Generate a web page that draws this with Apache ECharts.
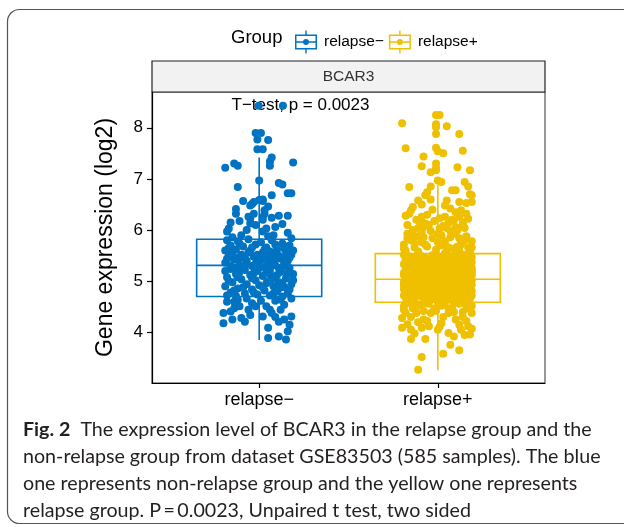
<!DOCTYPE html>
<html>
<head>
<meta charset="utf-8">
<script src="https://cdn.jsdelivr.net/npm/echarts@6/dist/echarts.min.js"></script>
<style>
html,body{margin:0;padding:0;background:#fff;}
#chart{width:624px;height:527px;}
</style>
</head>
<body>
<div id="chart"></div>
<script>
// ---------- data ----------
const categories = ['relapse\u2212', 'relapse+'];
const groupColors = ['#0073C2', '#EFC000'];
const yTickValues = [4, 5, 6, 7, 8];
const panelTitle = 'BCAR3';
const testLabel = 'T\u2212test, p = 0.0023';

// box statistics per group: lower whisker, Q1, median, Q3, upper whisker
const boxMin    = [3.85, 3.26];
const boxQ1     = [4.70, 4.59];
const boxMedian = [5.31, 5.04];
const boxQ3     = [5.82, 5.54];
const boxMax    = [7.42, 6.88];

// jittered points: [horizontal jitter (category units), expression]
const relapseNegPoints = [
[-0.003,8.43],[0.133,8.43],
[-0.02,7.90],[0.01,7.90],[-0.01,7.77],[0.05,7.76],[-0.01,7.58],[0.02,7.58],
[0.07,7.42],[0.06,7.34],[0.06,7.26],[-0.19,7.22],[-0.14,7.30],[-0.12,7.26],[0.19,7.32],
[0.00,6.97],[0.11,6.92],[0.13,6.89],[0.16,6.72],[0.18,6.72],[-0.12,6.84],[0.07,6.68],
[-0.09,6.57],[-0.03,6.55],[0.00,6.59],[0.02,6.57],[-0.04,6.51],[-0.05,6.48],[0.05,6.46],
[0.03,6.39],[0.03,6.32],[-0.13,6.41],[-0.13,6.32],[0.11,6.28],[0.16,6.28],[0.02,6.25],
[-0.05,6.22],[-0.06,6.26],[-0.03,6.32],[0.02,6.20],[0.02,6.60],
[-0.17,6.03],[-0.18,5.97],[-0.05,6.13],[0.04,6.03],[0.02,5.97],[0.09,6.06],[0.16,5.95],[0.18,5.84],
[-0.10,5.90],[-0.07,6.00],[0.08,5.90],[-0.15,5.86],
[-0.11,6.18],[0.07,6.24],[-0.02,6.10],[0.13,6.12],[-0.16,6.15],[0.05,5.88],
[-0.18,5.80],[-0.12,5.78],[-0.06,5.82],[0.01,5.76],[0.07,5.80],[0.13,5.74],[0.17,5.70],
[-0.16,5.70],[-0.09,5.68],[-0.02,5.72],[0.04,5.66],[0.10,5.62],[0.15,5.58],[-0.19,5.60],
[-0.13,5.62],[-0.05,5.60],[0.02,5.56],[0.08,5.54],[0.18,5.52],[-0.17,5.50],[-0.10,5.52],
[-0.03,5.48],[0.05,5.46],[0.12,5.44],[0.16,5.40],[-0.14,5.42],[-0.07,5.40],[0.00,5.38],
[0.07,5.36],[0.14,5.34],[-0.19,5.36],[-0.11,5.32],[-0.04,5.30],[0.03,5.28],[0.09,5.31],
[0.17,5.26],[-0.16,5.24],[-0.08,5.22],[-0.01,5.20],[0.06,5.22],[0.12,5.18],[0.19,5.14],
[-0.13,5.14],[-0.05,5.12],[0.02,5.10],[0.09,5.08],[0.15,5.06],[-0.18,5.08],[-0.10,5.04],
[-0.02,5.02],[0.05,5.00],[0.11,4.98],[-0.15,4.98],[-0.07,4.94],[0.00,4.92],[0.08,4.90],
[0.14,4.88],[0.18,4.94],[-0.19,4.90],[-0.12,4.86],[-0.04,4.84],[0.03,4.82],[0.10,4.80],
[0.16,4.76],[-0.16,4.78],[-0.08,4.76],[-0.01,4.74],[0.06,4.72],[0.13,4.70],[-0.13,4.71],
[-0.06,5.56],[0.01,5.42],[0.06,5.14],[-0.09,5.46],[0.11,5.26],[-0.02,5.34],[0.04,4.96],
[-0.11,5.18],[0.15,5.50],[-0.14,4.82],
[-0.17,5.65],[-0.11,5.74],[-0.04,5.66],[0.03,5.62],[0.09,5.72],[0.14,5.64],[0.19,5.60],
[-0.15,5.55],[-0.08,5.50],[-0.01,5.52],[0.06,5.58],[0.11,5.50],[0.17,5.46],
[-0.18,5.44],[-0.12,5.46],[0.03,5.44],[0.09,5.44],[-0.16,5.30],[-0.07,5.34],[0.00,5.26],[0.05,5.33],[0.13,5.28],
[-0.19,5.20],[-0.13,5.26],[-0.03,5.16],[0.04,5.18],[0.10,5.12],[0.16,5.16],
[-0.17,5.00],[-0.12,5.08],[-0.04,5.06],[0.07,5.04],[0.13,4.96],[0.19,5.02],
[-0.09,4.88],[0.02,4.88],[0.11,4.86],[-0.18,4.72],[-0.03,4.78],[0.08,4.76],[0.17,4.84],
[-0.14,4.60],[0.01,4.62],[0.12,4.64],[-0.06,4.44],[0.09,4.30],[-0.15,4.25],
[-0.20,4.38],[-0.20,4.18],[-0.16,4.41],[-0.14,4.47],[-0.10,4.28],[-0.08,4.21],[-0.05,4.34],
[-0.12,4.64],[-0.11,4.51],[-0.04,4.57],[-0.02,4.51],[0.04,4.51],[0.06,4.44],[0.07,4.38],
[0.11,4.21],[0.14,4.25],[0.18,4.31],[0.17,4.15],[0.05,4.09],[0.05,3.89],[0.11,3.92],[0.15,3.86],
[0.12,4.44],[0.14,4.54],[0.02,4.31],[-0.18,4.60],[0.09,4.62],[0.18,4.66],[-0.07,4.66],[0.16,4.02]
];

const relapsePosPoints = [
[-0.01,8.25],[0.01,8.25],[-0.20,8.09],[-0.01,8.07],[-0.01,8.01],[0.05,8.03],[-0.01,7.88],[0.12,7.88],
[-0.18,7.60],[-0.01,7.61],[0.00,7.54],[0.03,7.50],[0.14,7.55],
[-0.08,7.44],[-0.09,7.25],[-0.01,7.30],[-0.01,7.22],[-0.04,7.13],[-0.01,7.17],[0.11,7.23],[0.18,7.17],
[-0.16,6.84],[0.00,6.97],[0.02,6.94],[-0.04,6.85],[0.10,6.78],[0.08,6.78],[0.15,6.94],[0.17,6.85],[0.18,6.70],
[-0.06,6.74],[-0.07,6.68],[-0.04,6.60],[0.05,6.58],[0.12,6.55],[0.16,6.53],[0.19,6.55],[0.19,6.68],
[-0.14,6.45],[-0.15,6.39],[-0.16,6.32],[-0.09,6.50],[0.07,6.42],[0.10,6.35],[0.13,6.39],[0.16,6.32],
[0.01,6.23],[0.09,6.19],[0.12,6.26],[-0.09,6.26],[-0.07,6.13],
[-0.18,6.28],[-0.06,6.30],[0.04,6.26],[-0.12,6.20],[-0.02,6.18],[0.08,6.20],[0.17,6.22],
[-0.17,6.10],[-0.05,6.10],[-0.08,6.06],[-0.10,6.14],[0.06,6.14],[0.10,6.06],[0.14,6.16],[0.01,6.03],[0.00,5.93],
[-0.17,5.93],[-0.16,5.88],[-0.15,5.80],[-0.12,5.88],[0.10,5.93],[0.16,5.88],[0.19,5.78],
[-0.19,5.72],[-0.09,5.76],[-0.03,5.84],[0.04,5.78],[0.07,5.86],[0.13,5.72],[-0.13,5.66],[-0.06,5.68],
[0.02,5.70],[0.09,5.64],[0.17,5.66],[-0.18,5.60],[-0.11,5.58],[-0.01,5.62],[0.05,5.58],[0.12,5.60],[0.18,5.56],
[-0.04,5.98],[0.11,6.00],[-0.14,6.00],[0.03,6.08],[-0.09,5.96],[0.15,6.04],[0.07,5.98],
[-0.19,5.64],[-0.13,5.74],[-0.07,5.72],[0.00,5.76],[0.06,5.66],[0.11,5.68],[0.15,5.80],[0.19,5.66],
[-0.17,5.84],[-0.08,5.86],[0.02,5.90],[0.12,5.84],[-0.11,6.04],[0.05,6.04],[-0.03,6.40],[0.04,6.48],[-0.11,6.58],[0.14,6.10],
[-0.19,5.52],[-0.15,5.48],[-0.11,5.53],[-0.07,5.46],[-0.03,5.51],[0.01,5.47],[0.04,5.54],[0.08,5.49],
[0.12,5.45],[0.15,5.52],[0.19,5.47],[-0.13,5.45],[0.06,5.50],[-0.01,5.53],[0.17,5.44],
[-0.17,5.50],[-0.09,5.49],[0.00,5.44],[0.10,5.52],[0.14,5.48],
[-0.18,5.42],[-0.14,5.38],[-0.10,5.43],[-0.06,5.36],[-0.02,5.41],[0.02,5.37],[0.05,5.44],[0.09,5.39],
[0.13,5.35],[0.16,5.41],[0.19,5.37],[-0.16,5.35],[0.07,5.40],[-0.04,5.44],[0.11,5.43],[-0.08,5.40],
[-0.18,5.38],[-0.12,5.32],[-0.01,5.37],[0.04,5.39],[0.10,5.35],[0.18,5.42],
[-0.19,5.33],[-0.15,5.27],[-0.11,5.31],[-0.07,5.26],[-0.03,5.34],[0.00,5.29],[0.04,5.25],[0.08,5.32],
[0.12,5.28],[0.16,5.33],[0.19,5.26],[-0.13,5.35],[-0.05,5.30],[0.06,5.34],[0.14,5.25],[-0.17,5.30],[0.02,5.32],
[-0.16,5.25],[-0.09,5.29],[0.03,5.27],[0.09,5.27],[0.15,5.29],
[-0.18,5.22],[-0.14,5.17],[-0.10,5.24],[-0.06,5.19],[-0.02,5.15],[0.02,5.22],[0.05,5.17],[0.09,5.23],
[0.13,5.18],[0.17,5.21],[-0.16,5.15],[-0.08,5.16],[0.00,5.20],[0.07,5.25],[0.11,5.15],[0.19,5.17],[-0.12,5.20],[-0.04,5.23],
[-0.19,5.16],[-0.11,5.19],[-0.05,5.18],[0.04,5.21],[0.15,5.15],[0.19,5.22],
[-0.19,5.12],[-0.15,5.07],[-0.11,5.13],[-0.07,5.08],[-0.03,5.14],[0.01,5.06],[0.04,5.11],[0.08,5.06],
[0.12,5.13],[0.15,5.08],[0.19,5.11],[-0.13,5.05],[-0.05,5.10],[0.06,5.14],[0.10,5.09],[0.17,5.05],[-0.01,5.12],[-0.17,5.09],
[-0.16,5.11],[-0.09,5.06],[0.02,5.09],[0.08,5.12],[0.14,5.10],
[-0.18,5.02],[-0.14,4.97],[-0.10,5.03],[-0.06,4.98],[-0.02,5.04],[0.02,4.96],[0.05,5.01],[0.09,4.97],
[0.13,5.03],[0.16,4.99],[-0.16,5.05],[-0.08,4.95],[0.00,5.00],[0.07,5.04],[0.11,4.95],[0.19,5.02],[-0.12,4.99],[-0.04,5.01],[0.03,5.03],
[-0.19,4.98],[-0.11,4.98],[-0.04,4.96],[0.06,4.98],[0.12,5.00],[0.18,4.97],
[-0.19,4.92],[-0.15,4.87],[-0.11,4.93],[-0.07,4.88],[-0.03,4.94],[0.01,4.86],[0.04,4.91],[0.08,4.86],
[0.12,4.92],[0.15,4.88],[0.19,4.93],[-0.13,4.85],[-0.05,4.90],[0.06,4.94],[0.10,4.89],[0.17,4.85],[-0.01,4.92],[-0.17,4.89],
[-0.16,4.93],[-0.09,4.91],[0.02,4.91],[0.09,4.92],[0.14,4.94],
[-0.18,4.82],[-0.14,4.77],[-0.10,4.83],[-0.06,4.78],[-0.02,4.84],[0.02,4.76],[0.05,4.81],[0.09,4.77],
[0.13,4.83],[0.16,4.79],[-0.16,4.75],[-0.08,4.80],[0.00,4.79],[0.07,4.84],[0.11,4.75],[0.19,4.81],[-0.12,4.80],[-0.04,4.76],
[-0.19,4.85],[-0.12,4.86],[-0.04,4.88],[0.04,4.85],[0.13,4.87],[0.18,4.88],
[-0.15,4.80],[-0.07,4.82],[0.03,4.80],[0.08,4.81],[0.15,4.76],
[-0.19,4.72],[-0.15,4.67],[-0.11,4.73],[-0.07,4.66],[-0.03,4.71],[0.01,4.64],[0.04,4.69],[0.08,4.63],
[0.12,4.70],[0.15,4.65],[0.19,4.72],[-0.13,4.61],[-0.05,4.62],[0.06,4.74],[0.10,4.60],[0.17,4.62],[-0.01,4.68],[-0.17,4.63],[0.03,4.60],[-0.09,4.69],
[-0.18,4.69],[-0.13,4.70],[-0.03,4.65],[0.06,4.66],[0.13,4.67],[0.18,4.66],
[-0.16,4.58],[-0.05,4.56],[0.02,4.52],[0.09,4.58],[0.15,4.60],[-0.12,4.50],[0.06,4.46],[-0.08,4.42],[0.14,4.40],[-0.19,4.44],[0.19,4.52],
[-0.20,4.09],[-0.15,4.05],[-0.15,3.87],[-0.09,4.09],[-0.07,3.87],[-0.09,3.52],[-0.11,3.27],
[0.00,4.05],[0.01,4.11],[0.03,3.58],[0.06,3.99],[0.09,3.92],[0.07,3.76],[0.12,3.65],
[0.13,4.05],[0.17,4.12],[0.19,4.07],[0.18,3.96],
[-0.20,4.28],[-0.18,4.38],[-0.19,4.51],[-0.15,4.30],[-0.12,4.38],[-0.08,4.25],[-0.04,4.38],[-0.06,4.22],
[0.03,4.30],[0.06,4.38],[0.10,4.25],[0.14,4.30],[0.16,4.22],[0.19,4.38],
[-0.18,4.57],[-0.10,4.54],[-0.07,4.57],[0.00,4.54],[0.04,4.57],[0.12,4.56],[0.16,4.51],
[-0.14,4.47],[-0.02,4.46],[0.08,4.48],[0.18,4.45],[-0.11,4.20],[0.02,4.18],[0.12,4.15],[-0.17,4.16],
[-0.01,4.42],[0.09,4.40],[-0.05,4.12],[-0.13,3.98],[0.15,3.95]
];

const captionLines = [
  'The expression level of BCAR3 in the relapse group and the',
  'non-relapse group from dataset GSE83503 (585 samples). The blue',
  'one represents non-relapse group and the yellow one represents',
  'relapse group. P\u2009=\u20090.0023, Unpaired t test, two sided'
];
const captionLead = 'Fig. 2';

// ---------- build ----------
const chart = echarts.init(document.getElementById('chart'));
const FONT = '"Liberation Sans", Arial, Helvetica, sans-serif';
const CAP_FONT = 'Lato, "Open Sans", sans-serif';

// fit caption font size so the second line spans ~578px
const cv = document.createElement('canvas').getContext('2d');
cv.font = '100px ' + CAP_FONT;
const capSize = Math.max(14, Math.min(20, 578 / cv.measureText(captionLines[1]).width * 100));

const groupPoints = [relapseNegPoints, relapsePosPoints];
const boxData = categories.map((c, i) => [i + 1, boxMin[i], boxQ1[i], boxMedian[i], boxQ3[i], boxMax[i]]);

function renderBox(params, api) {
  const pos = api.value(0);
  const lo = api.value(1), q1 = api.value(2), med = api.value(3), q3 = api.value(4), hi = api.value(5);
  const hw = 0.35;
  const tl = api.coord([pos - hw, q3]);
  const br = api.coord([pos + hw, q1]);
  const mL = api.coord([pos - hw, med]);
  const mR = api.coord([pos + hw, med]);
  const cHi = api.coord([pos, hi]);
  const cQ3 = api.coord([pos, q3]);
  const cQ1 = api.coord([pos, q1]);
  const cLo = api.coord([pos, lo]);
  const style = { stroke: groupColors[params.dataIndex], lineWidth: 1.6, fill: null };
  return {
    type: 'group',
    children: [
      { type: 'line', shape: { x1: cHi[0], y1: cHi[1], x2: cQ3[0], y2: cQ3[1] }, style },
      { type: 'line', shape: { x1: cQ1[0], y1: cQ1[1], x2: cLo[0], y2: cLo[1] }, style },
      { type: 'rect', shape: { x: tl[0], y: tl[1], width: br[0] - tl[0], height: br[1] - tl[1] }, style },
      { type: 'line', shape: { x1: mL[0], y1: mL[1], x2: mR[0], y2: mR[1] }, style }
    ]
  };
}

const legendIcon = 'path://M0 4H22V19H0Z M1.5 5.5V17.5H20.5V5.5Z M0 10.8H22V12.2H0Z M10.3 0H11.7V4H10.3Z M10.3 19H11.7V23H10.3Z M8 11.5A3 3 0 1 1 14 11.5A3 3 0 1 1 8 11.5Z';

const series = [{
  type: 'custom',
  name: 'box',
  renderItem: renderBox,
  data: boxData,
  encode: { x: 0, y: [1, 2, 3, 4, 5] },
  z: 1,
  silent: true
}];
categories.forEach((c, i) => {
  series.push({
    type: 'scatter',
    name: c,
    symbol: 'circle',
    symbolSize: 8,
    itemStyle: { color: groupColors[i], opacity: 1 },
    data: groupPoints[i].map(p => [i + 1 + p[0], p[1]]),
    z: 2,
    silent: true
  });
});

const captionGraphics = [{
  type: 'text', z: 5,
  x: 23, y: 430,
  style: {
    text: '{b|' + captionLead + '}  ' + captionLines[0],
    fill: '#231F20',
    font: capSize + 'px ' + CAP_FONT,
    verticalAlign: 'middle',
    rich: { b: { fontWeight: 'bold', fontFamily: CAP_FONT, fontSize: capSize, fill: '#231F20' } }
  }
}];
for (let k = 1; k < captionLines.length; k++) {
  captionGraphics.push({
    type: 'text', z: 5,
    x: 23, y: 430 + 27 * k,
    style: {
      text: captionLines[k],
      fill: '#231F20',
      font: capSize + 'px ' + CAP_FONT,
      verticalAlign: 'middle'
    }
  });
}

const option = {
  backgroundColor: '#ffffff',
  animation: false,
  textStyle: { fontFamily: FONT },
  grid: { left: 152, right: 79, top: 92, bottom: 144, show: true, borderColor: '#333', borderWidth: 1, backgroundColor: 'transparent' },
  legend: {
    data: categories,
    left: 290, top: 25.5,
    itemWidth: 22, itemHeight: 23, itemGap: 5,
    icon: legendIcon,
    textStyle: { fontSize: 15.5, color: '#000', fontFamily: FONT, padding: [0, 0, 0, 2] },
    selectedMode: false
  },
  xAxis: {
    type: 'value', min: 0.4, max: 2.6,
    axisLine: { show: true, onZero: false, lineStyle: { color: '#000', width: 1.2 } },
    axisTick: { show: true, customValues: [1, 2], length: 5, lineStyle: { color: '#000', width: 1.2 } },
    axisLabel: { customValues: [1, 2], formatter: v => categories[Math.round(v) - 1], fontSize: 18, color: '#000', margin: 8, fontFamily: FONT },
    splitLine: { show: false }
  },
  yAxis: {
    type: 'value', min: 3.01, max: 8.70,
    name: 'Gene expression (log2)', nameLocation: 'middle', nameGap: 35,
    nameTextStyle: { fontSize: 23, color: '#000', fontFamily: FONT },
    axisLine: { show: true, onZero: false, lineStyle: { color: '#000', width: 1.2 } },
    axisTick: { show: true, customValues: yTickValues, length: 5, lineStyle: { color: '#000', width: 1.2 } },
    axisLabel: { customValues: yTickValues, fontSize: 17, color: '#000', margin: 9, fontFamily: FONT },
    splitLine: { show: false }
  },
  graphic: [
    { type: 'rect', z: 0, shape: { x: 7.5, y: 9.5, width: 640, height: 514, r: 12 }, style: { fill: null, stroke: '#555', lineWidth: 1.2 }, silent: true },
    { type: 'rect', z: 0, shape: { x: 152, y: 61, width: 393, height: 31 }, style: { fill: '#F2F2F2', stroke: '#222', lineWidth: 1.2 } },
    { type: 'text', z: 1, x: 348.5, y: 77, style: { text: panelTitle, fill: '#333', font: '15.5px ' + FONT, align: 'center', verticalAlign: 'middle' } },
    { type: 'text', z: 1, x: 231, y: 37.5, style: { text: 'Group', fill: '#000', font: '18.5px ' + FONT, align: 'left', verticalAlign: 'middle' } },
    { type: 'text', z: 0, x: 231.5, y: 105.5, style: { text: testLabel, fill: '#000', font: '17px ' + FONT, align: 'left', verticalAlign: 'middle' } }
  ].concat(captionGraphics),
  series
};
chart.setOption(option);
</script>
</body>
</html>
